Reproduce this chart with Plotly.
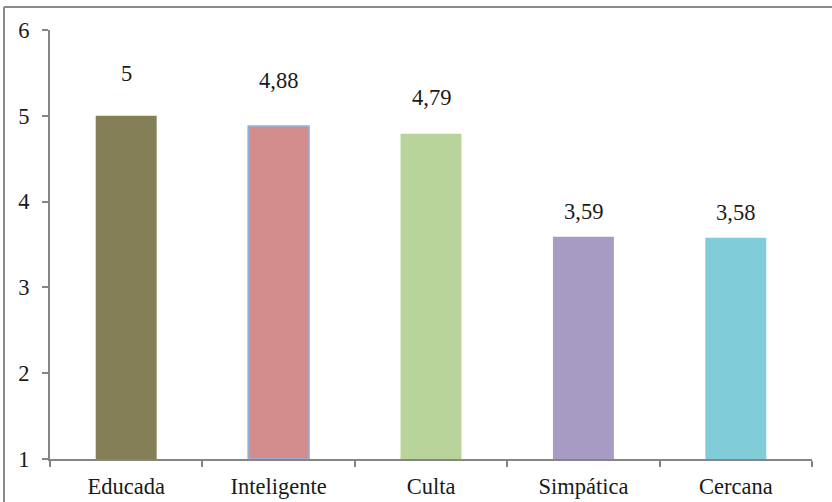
import plotly.graph_objects as go

categories = ["Educada", "Inteligente", "Culta", "Simpática", "Cercana"]
values = [5, 4.88, 4.79, 3.59, 3.58]
value_labels = ["5", "4,88", "4,79", "3,59", "3,58"]
y_ticks = [1, 2, 3, 4, 5, 6]

bar_colors = ["#857F57", "#D38D8C", "#B9D49A", "#A89BC3", "#80CCD9"]
bar_line_colors = ["#857F57", "#8EB4E3", "#B9D49A", "#A89BC3", "#80CCD9"]
bar_line_widths = [0, 1.5, 0, 0, 0]
label_shift_px = [42, 46, 36, 25, 25]

FONT = "Liberation Serif"
FS = 22.5
TXT = "#1a1a1a"
AX = "#858585"

fig = go.Figure()
fig.add_trace(go.Bar(
    x=categories, y=[v - 1 for v in values], base=1,
    width=0.4,
    marker=dict(color=bar_colors, line=dict(color=bar_line_colors, width=bar_line_widths)),
    hoverinfo="skip",
))

for c, v, t, s in zip(categories, values, value_labels, label_shift_px):
    fig.add_annotation(x=c, y=v, text=t, showarrow=False, yanchor="middle",
                       yshift=s, font=dict(family=FONT, size=FS, color=TXT))

# outer frame (top and left edges)
L, R, T, B = 50, 20, 30, 43
W, H = 832, 502
pw, ph = W - L - R, H - T - B
def px_x(px): return (px - L) / pw
def px_y(py): return (H - B - py) / ph
fig.add_shape(type="line", xref="paper", yref="paper", x0=px_x(4), x1=px_x(832), y0=px_y(7), y1=px_y(7),
              line=dict(color="#8a8a8a", width=2))
fig.add_shape(type="line", xref="paper", yref="paper", x0=px_x(4), x1=px_x(4), y0=px_y(7), y1=px_y(502),
              line=dict(color="#8a8a8a", width=2))

fig.update_layout(
    width=W, height=H,
    margin=dict(l=L, r=R, t=T, b=B, autoexpand=False),
    plot_bgcolor="white", paper_bgcolor="white",
    showlegend=False, bargap=0.6,
    font=dict(family=FONT, size=FS, color=TXT),
)
fig.update_xaxes(
    showline=True, linecolor=AX, linewidth=2, automargin=False,
    ticks="outside", tickson="boundaries", ticklen=6, tickcolor=AX, tickwidth=1.5,
    showgrid=False, ticklabelstandoff=6,
    tickfont=dict(family=FONT, size=FS, color=TXT),
)
fig.update_yaxes(
    range=[1, 6], tickvals=y_ticks, showline=True, linecolor=AX, linewidth=2, automargin=False,
    ticks="outside", ticklen=6, tickcolor=AX, tickwidth=1.5,
    showgrid=False, zeroline=False, ticklabelstandoff=8,
    tickfont=dict(family=FONT, size=FS, color=TXT),
)

fig.write_html("out.html", config={"displayModeBar": False},
               post_script="document.body.style.margin='0';document.body.style.overflow='hidden';")
